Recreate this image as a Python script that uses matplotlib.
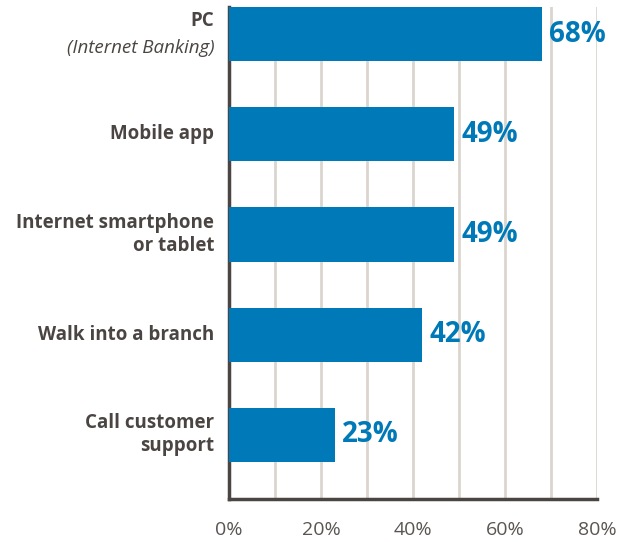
import matplotlib.pyplot as plt

# Data
categories = ['PC', 'Mobile app', 'Internet smartphone\nor tablet', 'Walk into a branch', 'Call customer\nsupport']
values = [68, 49, 49, 42, 23]
tick_values = [0, 20, 40, 60, 80]
tick_labels = ['0%', '20%', '40%', '60%', '80%']

bar_color = '#0079b8'
text_color = '#4a4542'

plt.rcParams['font.family'] = ['Open Sans', 'DejaVu Sans']

fig = plt.figure(figsize=(6.23, 5.42), dpi=100)
ax = fig.add_axes([229 / 623, 43 / 542, 368 / 623, 492 / 542])

y = list(range(len(categories)))
ax.barh(y, values, height=0.54, color=bar_color, zorder=3)

for yi, v in zip(y, values):
    ax.text(v + 1.6, yi, f'{v}%', va='center', ha='left', fontsize=20,
            fontweight='bold', color=bar_color)

ax.set_ylim(len(categories) - 1 + 0.64, -0.27)
ax.set_xlim(0, 80)

# gridlines every 10%
for gx in range(10, 81, 10):
    ax.axvline(gx, color='#dcd5cf', linewidth=2, zorder=1)

ax.set_xticks(tick_values)
ax.set_xticklabels(tick_labels, fontsize=14, color='#5a5552')
ax.tick_params(axis='x', length=0, pad=16)
ax.set_yticks([])

# category labels
for yi, lab in zip(y, categories):
    if lab == 'PC':
        ax.text(-3.2, yi - 0.13, 'PC', ha='right', va='center', fontsize=13.5,
                fontweight='bold', color=text_color)
        ax.text(-3.2, yi + 0.14, '(Internet Banking)', ha='right', va='center',
                fontsize=13.5, style='italic', color=text_color)
    else:
        ax.text(-3.2, yi, lab, ha='right', va='center', fontsize=13.5,
                fontweight='bold', color=text_color, linespacing=1.2)

for s in ['top', 'right']:
    ax.spines[s].set_visible(False)
for s in ['left', 'bottom']:
    ax.spines[s].set_color('#4a4542')
    ax.spines[s].set_linewidth(2.5)

plt.savefig('out.png', dpi=100)
